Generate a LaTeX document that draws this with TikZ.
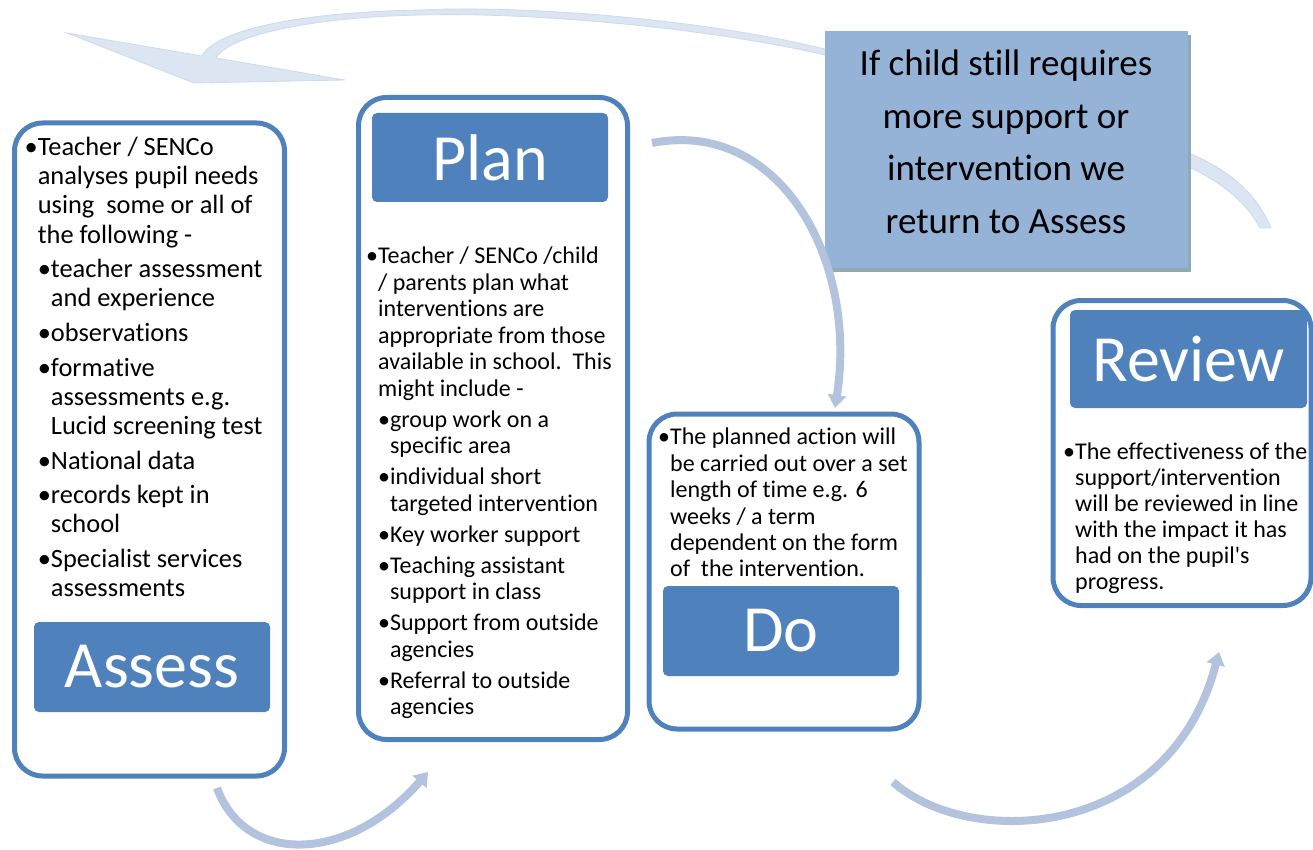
\documentclass[tikz,border=0pt]{standalone}
\usepackage{fontspec}
\setmainfont{Carlito}[Ligatures={NoCommon,NoRare}]
\usepackage{tikz}
\usetikzlibrary{arrows.meta,shadows}
\tikzset{>={Triangle[width=18pt,length=13pt]}}
\definecolor{boxblue}{HTML}{4F81BD}
\definecolor{noteblue}{HTML}{95B3D7}
\definecolor{noteshade}{HTML}{8FAAB0}
\definecolor{flowblue}{HTML}{B3C3DE}
\definecolor{backfill}{HTML}{DCE6F2}
\definecolor{backedge}{HTML}{CCDAEC}
\newcommand\ind{\hphantom{•}}

\begin{document}
\begin{tikzpicture}[x=1pt,y=-1pt,
    stage/.style={draw=boxblue,line width=5pt,fill=white,rounded corners=28pt,inner sep=0pt},
    stagehead/.style={fill=boxblue,rounded corners=5pt,text=white,inner sep=0pt,
      minimum width=236pt,font=\fontsize{66}{70}\selectfont},
    notes/.style={anchor=north west,align=left,inner sep=0pt},
    flowarrow/.style={->,draw=flowblue,line width=8pt}]
  \useasboundingbox (0,0) rectangle (1313,850);

  % return arrow, behind everything
  \path[fill=backfill,draw=backedge,line width=.8pt]
    (1271,228) .. controls (1256,192) and (1228,170) .. (1191,154)
    .. controls (1080,108) and (950,78) .. (829,50)
    .. controls (700,18) and (520,5) .. (421,10)
    .. controls (300,12) and (215,30) .. (202,56)
    -- (67,33) -- (194,83) -- (345,80) -- (216,58)
    .. controls (228,36) and (310,17) .. (421,15)
    .. controls (520,12) and (700,26) .. (825,55)
    .. controls (950,85) and (1090,122) .. (1191,168)
    .. controls (1222,183) and (1246,202) .. (1260,228) -- cycle;

  \node[stage,minimum width=270pt,minimum height=653pt] (assess) at (149.5,449.5) {};
  \node[stage,minimum width=269pt,minimum height=642pt] (plan) at (493,418.5) {};
  \node[stage,minimum width=270pt,minimum height=315pt] (act) at (784,571.5) {};
  \node[stage,minimum width=258pt,minimum height=305pt] (review) at (1182,453) {};

  \node[stagehead,minimum height=90pt] (assessHead) at (152,667) {Assess};
  \node[stagehead,minimum height=89pt] (planHead) at (490,157.5) {Plan};
  \node[stagehead,minimum height=90pt] (actHead) at (781,631) {Do};
  \node[stagehead,minimum width=237pt,minimum height=98pt] (reviewHead) at (1188.5,359) {Review};

  \node[notes,font=\fontsize{26.4}{29.2}\selectfont] (assessText) at (24.5,137) {%
    •Teacher / SENCo\\
    \ind analyses pupil needs\\
    \ind using\ \ some or all of\\
    \ind the following -\\[5.4pt]
    \ind•teacher assessment\\
    \ind\ind and experience\\[5.4pt]
    \ind•observations\\[5.4pt]
    \ind•formative\\
    \ind\ind assessments e.g.\\
    \ind\ind Lucid screening test\\[5.4pt]
    \ind•National data\\[5.4pt]
    \ind•records kept in\\
    \ind\ind school\\[5.4pt]
    \ind•Specialist services\\
    \ind\ind assessments};

  \node[notes,font=\fontsize{24}{26.5}\selectfont] (planText) at (366,247) {%
    •Teacher / SENCo /child\\
    \ind / parents plan what\\
    \ind interventions are\\
    \ind appropriate from those\\
    \ind available in school.\ \ This\\
    \ind might include -\\[4.5pt]
    \ind•group work on a\\
    \ind\ind specific area\\[4.5pt]
    \ind•individual short\\
    \ind\ind targeted intervention\\[4.5pt]
    \ind•Key worker support\\[4.5pt]
    \ind•Teaching assistant\\
    \ind\ind support in class\\[4.5pt]
    \ind•Support from outside\\
    \ind\ind agencies\\[4.5pt]
    \ind•Referral to outside\\
    \ind\ind agencies};

  \node[notes,font=\fontsize{24}{26.4}\selectfont] (actText) at (658,428) {%
    •The planned action will\\
    \ind be carried out over a set\\
    \ind length of time e.g. 6\\
    \ind weeks / a term\\
    \ind dependent on the form\\
    \ind of\ \ the intervention.};

  \node[notes,font=\fontsize{24}{26}\selectfont] (reviewText) at (1063,443) {%
    •The effectiveness of the\\
    \ind support/intervention\\
    \ind will be reviewed in line\\
    \ind with the impact it has\\
    \ind had on the pupil\textquotesingle s\\
    \ind progress.};

  % callout
  \node[fill=noteblue,minimum width=363pt,minimum height=237pt,inner sep=0pt,
    drop shadow={opacity=1,fill=noteshade,shadow xshift=3pt,shadow yshift=-4pt}]
    (note) at (1006.5,149.5) {};
  \node[align=center,inner sep=0pt,font=\fontsize{37}{52.5}\selectfont] (noteText) at (1006,142)
    {If child still requires\\ more support or\\ intervention we\\ return to Assess};

  \coordinate (ap0) at (217,788);
  \coordinate (ap1) at (428,772);
  \coordinate (pd0) at (652,143);
  \coordinate (pd1) at (835,408);
  \coordinate (dr0) at (893,782);
  \coordinate (dr1) at (1219,652);
  \draw[flowarrow] (ap0) .. controls (245,865) and (348,864) .. (ap1);
  \draw[flowarrow] (pd0) .. controls (780,118) and (858,260) .. (pd1);
  \draw[flowarrow] (dr0) .. controls (970,850) and (1170,840) .. (dr1);
\end{tikzpicture}
\end{document}
